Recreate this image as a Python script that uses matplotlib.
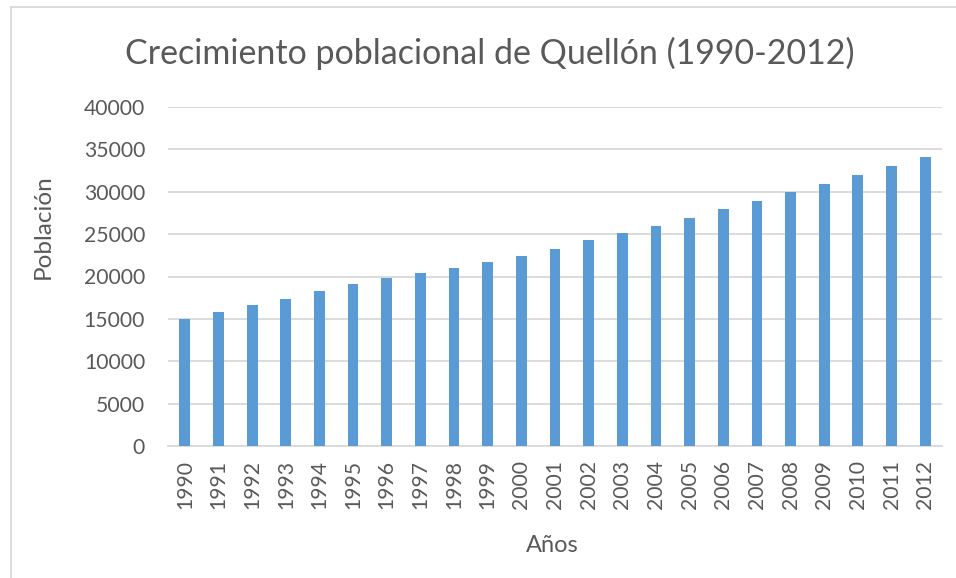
import matplotlib.pyplot as plt
from matplotlib.lines import Line2D

anios = ["1990", "1991", "1992", "1993", "1994", "1995", "1996", "1997", "1998", "1999",
         "2000", "2001", "2002", "2003", "2004", "2005", "2006", "2007", "2008", "2009",
         "2010", "2011", "2012"]
poblacion = [14950, 15800, 16600, 17400, 18300, 19150, 19800, 20430, 21050, 21760,
             22420, 23280, 24250, 25080, 25990, 26890, 27920, 28950, 29950, 30910,
             31930, 33040, 34140]
yticks = [0, 5000, 10000, 15000, 20000, 25000, 30000, 35000, 40000]

gris = "#595959"
azul = "#5B9BD5"
plt.rcParams['font.family'] = ['Lato', 'DejaVu Sans']

fig = plt.figure(figsize=(9.56, 5.78), dpi=100)
ax = fig.add_axes([168/956, 1 - 446/578, (942-168)/956, (446-107)/578])

x = range(len(anios))
ax.bar(x, poblacion, width=0.32, color=azul, zorder=3)
ax.set_xlim(-0.5, len(anios) - 0.5)
ax.set_ylim(0, 40000)
ax.set_yticks(yticks)
ax.set_yticklabels([str(v) for v in yticks])
ax.set_xticks(list(x))
ax.set_xticklabels(anios, rotation=90)
ax.grid(axis="y", color="#D9D9D9", linewidth=1.3, zorder=0)
ax.tick_params(axis="y", length=0, pad=16.5, labelsize=15.2, labelcolor=gris)
ax.tick_params(axis="x", length=0, pad=10, labelsize=15.2, labelcolor=gris)
for s in ["top", "right", "left"]:
    ax.spines[s].set_visible(False)
ax.spines["bottom"].set_color("#D9D9D9")
ax.spines["bottom"].set_linewidth(1.3)

fig.text(490/956, 1 - 53/578, "Crecimiento poblacional de Quellón (1990-2012)",
         ha="center", va="center", fontsize=24.5, color=gris)
fig.text(43/956, 1 - 227/578, "Población", rotation=90, ha="center", va="center",
         fontsize=17.5, color=gris)
fig.text(552/956, 1 - 546/578, "Años", ha="center", va="center", fontsize=17, color=gris)

# borde del area del grafico
fig.add_artist(Line2D([11/956, 11/956], [0, 1 - 7/578], transform=fig.transFigure,
                      color="#D9D9D9", linewidth=1.3))
fig.add_artist(Line2D([11/956, 1], [1 - 7/578, 1 - 7/578], transform=fig.transFigure,
                      color="#D9D9D9", linewidth=1.3))

fig.savefig("out.png", dpi=100)
